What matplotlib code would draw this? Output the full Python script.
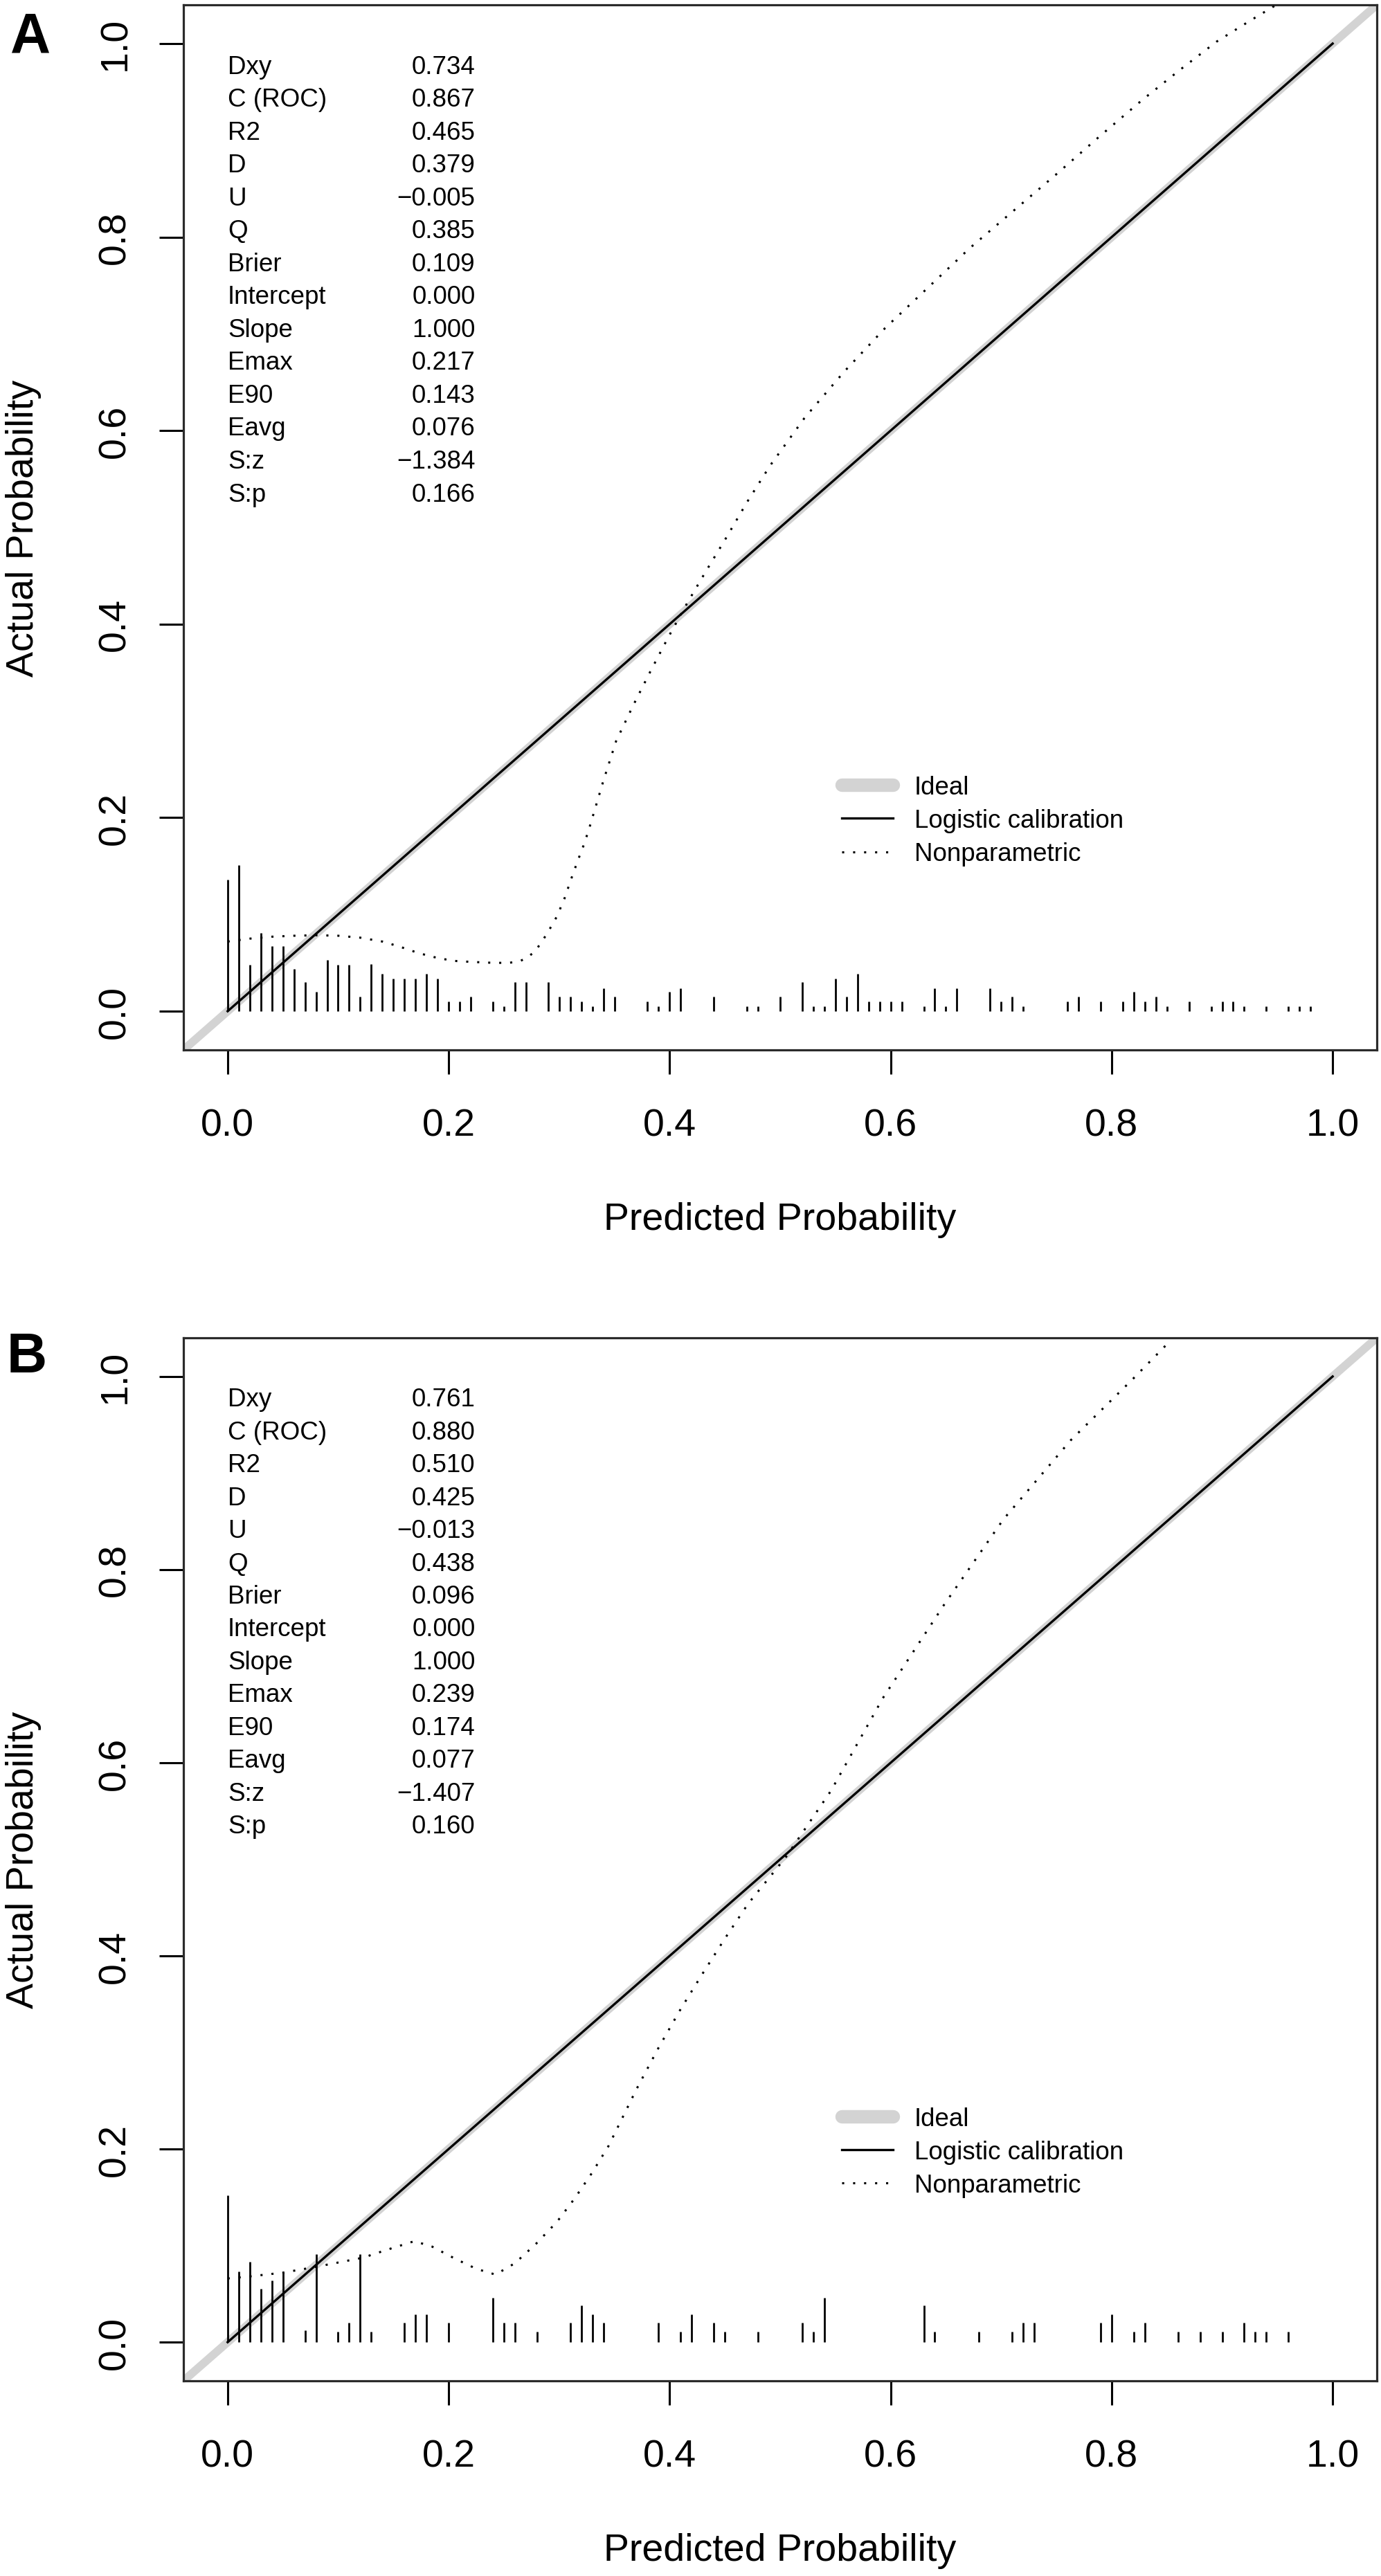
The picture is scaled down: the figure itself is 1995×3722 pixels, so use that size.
"""
Calibration plots (val.prob style) for two prediction models, panels A and B.
"""

import matplotlib.pyplot as plt
from matplotlib.lines import Line2D

plt.rcParams["font.family"] = ["Liberation Sans", "DejaVu Sans"]

# ---- data ----
stat_names = ["Dxy", "C (ROC)", "R2", "D", "U", "Q", "Brier", "Intercept",
              "Slope", "Emax", "E90", "Eavg", "S:z", "S:p"]
stats_a = [0.734, 0.867, 0.465, 0.379, -0.005, 0.385, 0.109, 0.000,
           1.000, 0.217, 0.143, 0.076, -1.384, 0.166]
stats_b = [0.761, 0.880, 0.510, 0.425, -0.013, 0.438, 0.096, 0.000,
           1.000, 0.239, 0.174, 0.077, -1.407, 0.160]

axis_ticks = [0.0, 0.2, 0.4, 0.6, 0.8, 1.0]
legend_labels = ["Ideal", "Logistic calibration", "Nonparametric"]

# logistic calibration line (intercept 0, slope 1)
logistic_x = [0.0, 1.0]
logistic_y = [0.0, 1.0]

# distribution of predicted probabilities (spikes above the x axis)
rug_x_a = [0.00, 0.01, 0.02, 0.03, 0.04, 0.05, 0.06, 0.07, 0.08, 0.09,
           0.10, 0.11, 0.12, 0.13, 0.14, 0.15, 0.16, 0.17, 0.18, 0.19,
           0.20, 0.21, 0.22, 0.24, 0.25, 0.26, 0.27, 0.29, 0.30, 0.31,
           0.32, 0.33, 0.34, 0.35, 0.38, 0.39, 0.40, 0.41, 0.44, 0.47,
           0.48, 0.50, 0.52, 0.53, 0.54, 0.55, 0.56, 0.57, 0.58, 0.59,
           0.60, 0.61, 0.63, 0.64, 0.65, 0.66, 0.69, 0.70, 0.71, 0.72,
           0.76, 0.77, 0.79, 0.81, 0.82, 0.83, 0.84, 0.85, 0.87, 0.89,
           0.90, 0.91, 0.92, 0.94, 0.96, 0.97, 0.98]
rug_h_a = [0.136, 0.151, 0.048, 0.081, 0.067, 0.067, 0.044, 0.030, 0.020, 0.053,
           0.048, 0.048, 0.015, 0.049, 0.039, 0.034, 0.034, 0.034, 0.039, 0.034,
           0.010, 0.010, 0.015, 0.010, 0.005, 0.030, 0.030, 0.030, 0.015, 0.015,
           0.010, 0.005, 0.024, 0.015, 0.010, 0.005, 0.020, 0.024, 0.015, 0.005,
           0.005, 0.015, 0.030, 0.005, 0.005, 0.034, 0.015, 0.039, 0.010, 0.010,
           0.010, 0.010, 0.005, 0.024, 0.005, 0.024, 0.024, 0.010, 0.015, 0.005,
           0.010, 0.015, 0.010, 0.010, 0.020, 0.010, 0.015, 0.005, 0.010, 0.005,
           0.010, 0.010, 0.005, 0.005, 0.005, 0.005, 0.005]

rug_x_b = [0.00, 0.01, 0.02, 0.03, 0.04, 0.05, 0.07, 0.08, 0.10, 0.11,
           0.12, 0.13, 0.16, 0.17, 0.18, 0.20, 0.24, 0.25, 0.26, 0.28,
           0.31, 0.32, 0.33, 0.34, 0.39, 0.41, 0.42, 0.44, 0.45, 0.48,
           0.52, 0.53, 0.54, 0.63, 0.64, 0.68, 0.71, 0.72, 0.73, 0.79,
           0.80, 0.82, 0.83, 0.86, 0.88, 0.90, 0.92, 0.93, 0.94, 0.96]
rug_h_b = [0.152, 0.073, 0.083, 0.055, 0.064, 0.072, 0.012, 0.091, 0.011, 0.020,
           0.091, 0.011, 0.020, 0.029, 0.029, 0.020, 0.046, 0.020, 0.020, 0.011,
           0.020, 0.038, 0.029, 0.020, 0.020, 0.011, 0.029, 0.020, 0.011, 0.011,
           0.020, 0.011, 0.046, 0.038, 0.011, 0.011, 0.011, 0.020, 0.020, 0.020,
           0.029, 0.011, 0.020, 0.011, 0.011, 0.011, 0.020, 0.011, 0.011, 0.011]

# nonparametric (loess) calibration curves
np_x_a = [0.000, 0.020, 0.040, 0.060, 0.080, 0.100, 0.120, 0.140, 0.155, 0.173,
          0.190, 0.205, 0.220, 0.240, 0.255, 0.265, 0.272, 0.279, 0.289, 0.298,
          0.305, 0.311, 0.317, 0.323, 0.328, 0.340, 0.3515, 0.367, 0.3825, 0.399,
          0.416, 0.433, 0.450, 0.470, 0.491, 0.522, 0.558, 0.595, 0.634, 0.672,
          0.711, 0.750, 0.789, 0.828, 0.862, 0.895, 0.923, 0.949]
np_y_a = [0.072, 0.075, 0.077, 0.078, 0.0785, 0.078, 0.076, 0.072, 0.067, 0.060,
          0.055, 0.052, 0.051, 0.050, 0.050, 0.052, 0.056, 0.063, 0.080, 0.098,
          0.117, 0.137, 0.156, 0.174, 0.192, 0.238, 0.279, 0.316, 0.351, 0.387,
          0.422, 0.455, 0.487, 0.526, 0.564, 0.613, 0.661, 0.706, 0.748, 0.789,
          0.827, 0.865, 0.904, 0.942, 0.973, 1.002, 1.022, 1.040]

np_x_b = [0.000, 0.019, 0.050, 0.078, 0.1225, 0.145, 0.169, 0.185, 0.2056, 0.225,
          0.2424, 0.260, 0.279, 0.298, 0.314, 0.330, 0.3446, 0.370, 0.390, 0.410,
          0.430, 0.450, 0.471, 0.505, 0.546, 0.593, 0.648, 0.702, 0.763, 0.818,
          0.854]
np_y_b = [0.066, 0.068, 0.072, 0.0776, 0.0875, 0.096, 0.1046, 0.099, 0.0866, 0.076,
          0.070, 0.0818, 0.1018, 0.1246, 0.1488, 0.1758, 0.203, 0.262, 0.305, 0.345,
          0.382, 0.418, 0.454, 0.502, 0.571, 0.667, 0.763, 0.852, 0.934, 0.996,
          1.038]

IDEAL_GREY = "#d3d3d3"
DOTTED = (0, (1, 4.2))


def fmt(value):
    return f"{value:.3f}".replace("-", "\u2212")


def draw_panel(ax, stats, rug_x, rug_h, np_x, np_y):
    ax.axline((0, 0), (1, 1), color=IDEAL_GREY, lw=8.5, zorder=1)
    ax.vlines(rug_x, 0, rug_h, color="black", lw=2.0, zorder=2)
    ax.plot(logistic_x, logistic_y, color="black", lw=2.4, zorder=3)
    ax.plot(np_x, np_y, color="black", lw=2.2, linestyle=DOTTED, zorder=3)

    ax.set_xlim(-0.04, 1.04)
    ax.set_ylim(-0.04, 1.04)
    ax.set_xticks(axis_ticks)
    ax.set_yticks(axis_ticks)
    ax.set_xticklabels([f"{t:.1f}" for t in axis_ticks])
    ax.set_yticklabels([f"{t:.1f}" for t in axis_ticks], rotation=90,
                       va="center")
    ax.tick_params(axis="both", direction="out", length=25, width=2.2,
                   labelsize=40, color="black")
    ax.tick_params(axis="x", pad=35)
    ax.tick_params(axis="y", pad=27)
    for spine in ax.spines.values():
        spine.set_linewidth(2.3)
        spine.set_color("#2b2b2b")

    ax.set_xlabel("Predicted Probability", fontsize=40)
    ax.set_ylabel("Actual Probability", fontsize=40)
    ax.xaxis.set_label_coords(0.5, -0.145)
    ax.yaxis.set_label_coords(-0.119, 0.5)

    # summary statistics block
    for i, (name, value) in enumerate(zip(stat_names, stats)):
        y = 0.9695 - i * 0.034
        ax.text(0.0, y, name, fontsize=26.5, ha="left", va="baseline")
        ax.text(0.224, y, fmt(value), fontsize=26.5, ha="right", va="baseline")

    handles = [
        Line2D([], [], color=IDEAL_GREY, lw=14, solid_capstyle="round"),
        Line2D([], [], color="black", lw=2.4),
        Line2D([], [], color="black", lw=2.2, linestyle=DOTTED),
    ]
    ax.legend(handles, legend_labels, loc="upper left",
              bbox_to_anchor=(0.556, 0.244), bbox_transform=ax.transData,
              frameon=False, fontsize=26.5, handlelength=2.0,
              handletextpad=0.84, labelspacing=0.36, borderpad=0,
              borderaxespad=0)


fig = plt.figure(figsize=(19.95, 37.23), dpi=100)
W, H = 1995, 3723
ax_a = fig.add_axes([265 / W, 1 - 1518 / H, 1724 / W, 1510 / H])
ax_b = fig.add_axes([265 / W, 1 - 3441 / H, 1724 / W, 1507 / H])

draw_panel(ax_a, stats_a, rug_x_a, rug_h_a, np_x_a, np_y_a)
draw_panel(ax_b, stats_b, rug_x_b, rug_h_b, np_x_b, np_y_b)

fig.text(15 / W, 1 - 76 / H, "A", fontsize=58, fontweight="bold",
         ha="left", va="baseline")
fig.text(10 / W, 1 - 1983 / H, "B", fontsize=58, fontweight="bold",
         ha="left", va="baseline")

fig.savefig("out.png", dpi=100, facecolor="white")
